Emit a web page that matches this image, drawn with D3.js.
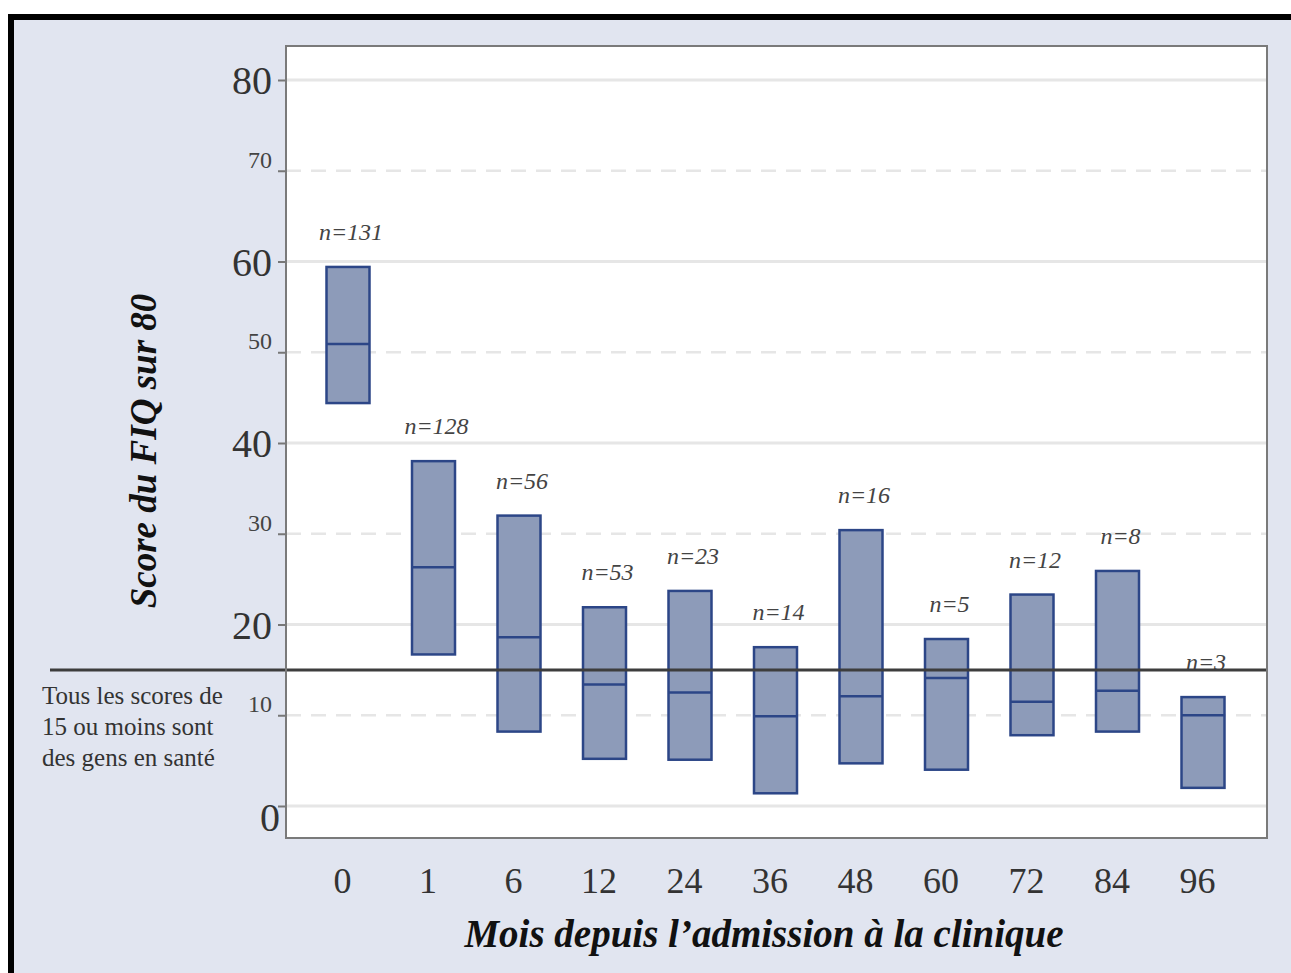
<!DOCTYPE html>
<html>
<head>
<meta charset="utf-8">
<script src="https://cdn.jsdelivr.net/npm/d3@7"></script>
<style>
html,body{margin:0;padding:0;background:#ffffff;}
svg{display:block;}
</style>
</head>
<body>
<svg id="chart" width="1291" height="973"></svg>
<script>
// ---- data ----
const months = ["0","1","6","12","24","36","48","60","72","84","96"];
const q1     = [44.4, 16.7, 8.2, 5.2, 5.1, 1.4, 4.7, 4.0, 7.8, 8.2, 2.0];
const median = [50.9, 26.3, 18.6, 13.4, 12.5, 9.9, 12.1, 14.1, 11.5, 12.7, 10.0];
const q3     = [59.4, 38.0, 32.0, 21.9, 23.7, 17.5, 30.4, 18.4, 23.3, 25.9, 12.0];
const counts = ["n=131","n=128","n=56","n=53","n=23","n=14","n=16","n=5","n=12","n=8","n=3"];
const majorTicks = [0, 20, 40, 60, 80];
const minorTicks = [10, 30, 50, 70];
const healthyThreshold = 15;
const yTitle = "Score du FIQ sur 80";
const xTitle = "Mois depuis l\u2019admission à la clinique";
const noteLines = ["Tous les scores de", "15 ou moins sont", "des gens en santé"];

// ---- layout ----
const W = 1291, H = 973;
const plot = {left: 286, top: 46, right: 1267, bottom: 838};
const svg = d3.select("#chart");
const serif = "'Liberation Serif','Times New Roman',serif";

// outer background + border
svg.append("rect").attr("x", 0).attr("y", 0).attr("width", W).attr("height", H).attr("fill", "#ffffff");
svg.append("rect").attr("x", 11).attr("y", 17).attr("width", W + 20).attr("height", H + 20)
  .attr("fill", "#E1E5F0").attr("stroke", "#000").attr("stroke-width", 6);

// plot background
svg.append("rect").attr("x", plot.left).attr("y", plot.top)
  .attr("width", plot.right - plot.left).attr("height", plot.bottom - plot.top)
  .attr("fill", "#ffffff");

// scales
const y = d3.scaleLinear().domain([0, 80]).range([806, 80]);
const x = d3.scalePoint().domain(months).range([plot.left + 62, plot.right - 64]);

// gridlines
const grid = svg.append("g");
grid.selectAll("line.major").data(majorTicks).join("line")
  .attr("x1", plot.left).attr("x2", plot.right)
  .attr("y1", d => y(d)).attr("y2", d => y(d))
  .attr("stroke", "#E6E6E6").attr("stroke-width", 3);
grid.selectAll("line.minor").data(minorTicks).join("line")
  .attr("x1", plot.left).attr("x2", plot.right)
  .attr("y1", d => y(d)).attr("y2", d => y(d))
  .attr("stroke", "#E6E6E6").attr("stroke-width", 2.5)
  .attr("stroke-dasharray", "15,10");

// y axis ticks (major)
const yAxisMajor = d3.axisLeft(y).tickValues(majorTicks).tickSize(8).tickPadding(6).tickFormat(d3.format("d"));
const gMaj = svg.append("g").attr("transform", `translate(${plot.left},0)`).call(yAxisMajor);
gMaj.select(".domain").remove();
gMaj.selectAll(".tick line").attr("stroke", "#777").attr("stroke-width", 2);
gMaj.selectAll(".tick text").attr("font-family", serif).attr("font-size", 40)
  .attr("fill", "#333").attr("dy", "0.34em");
gMaj.selectAll(".tick").filter(d => d === 0).select("text").attr("dy", "0.62em").attr("x", -6);

const yAxisMinor = d3.axisLeft(y).tickValues(minorTicks).tickSize(8).tickPadding(6).tickFormat(d3.format("d"));
const gMin = svg.append("g").attr("transform", `translate(${plot.left},0)`).call(yAxisMinor);
gMin.select(".domain").remove();
gMin.selectAll(".tick line").attr("stroke", "#777").attr("stroke-width", 2);
gMin.selectAll(".tick text").attr("font-family", serif).attr("font-size", 24)
  .attr("fill", "#444").attr("dy", "-0.15em");

// boxes
const bw = 43;
const boxes = svg.append("g");
boxes.selectAll("rect").data(months).join("rect")
  .attr("x", d => x(d) - bw / 2)
  .attr("y", (d, i) => y(q3[i]))
  .attr("width", bw)
  .attr("height", (d, i) => y(q1[i]) - y(q3[i]))
  .attr("fill", "#8D9BB9").attr("stroke", "#2C4687").attr("stroke-width", 2.5);
boxes.selectAll("line").data(months).join("line")
  .attr("x1", d => x(d) - bw / 2).attr("x2", d => x(d) + bw / 2)
  .attr("y1", (d, i) => y(median[i])).attr("y2", (d, i) => y(median[i]))
  .attr("stroke", "#2C4687").attr("stroke-width", 2.5);

// n labels
svg.append("g").selectAll("text").data(months).join("text")
  .attr("x", d => x(d) + 3)
  .attr("y", (d, i) => y(q3[i]) - 27)
  .attr("text-anchor", "middle")
  .attr("font-family", serif).attr("font-style", "italic").attr("font-size", 24)
  .attr("fill", "#444")
  .text((d, i) => counts[i]);

// threshold line
svg.append("line")
  .attr("x1", 50).attr("x2", plot.right)
  .attr("y1", y(healthyThreshold)).attr("y2", y(healthyThreshold))
  .attr("stroke", "#3d3d3d").attr("stroke-width", 3);

// plot frame
svg.append("rect").attr("x", plot.left).attr("y", plot.top)
  .attr("width", plot.right - plot.left).attr("height", plot.bottom - plot.top)
  .attr("fill", "none").attr("stroke", "#7a7a7a").attr("stroke-width", 2);

// x axis labels
const xAxis = d3.axisBottom(x).tickSize(0).tickPadding(0);
const gx = svg.append("g").attr("transform", `translate(-6,${plot.bottom})`).call(xAxis);
gx.select(".domain").remove();
gx.selectAll(".tick text").attr("font-family", serif).attr("font-size", 36)
  .attr("fill", "#333").attr("y", 42).attr("dy", "0.35em");

// x title
svg.append("text").attr("x", 764).attr("y", 947)
  .attr("text-anchor", "middle")
  .attr("font-family", serif).attr("font-style", "italic").attr("font-weight", "bold")
  .attr("font-size", 39).attr("fill", "#111")
  .text(xTitle);

// y title
svg.append("text")
  .attr("transform", "translate(156,451) rotate(-90)")
  .attr("text-anchor", "middle")
  .attr("font-family", serif).attr("font-style", "italic").attr("font-weight", "bold")
  .attr("font-size", 37).attr("fill", "#111")
  .text(yTitle);

// note
svg.append("g").selectAll("text").data(noteLines).join("text")
  .attr("x", 42).attr("y", (d, i) => 704 + i * 31)
  .attr("font-family", serif).attr("font-size", 25).attr("fill", "#333")
  .text(d => d);
</script>
</body>
</html>
